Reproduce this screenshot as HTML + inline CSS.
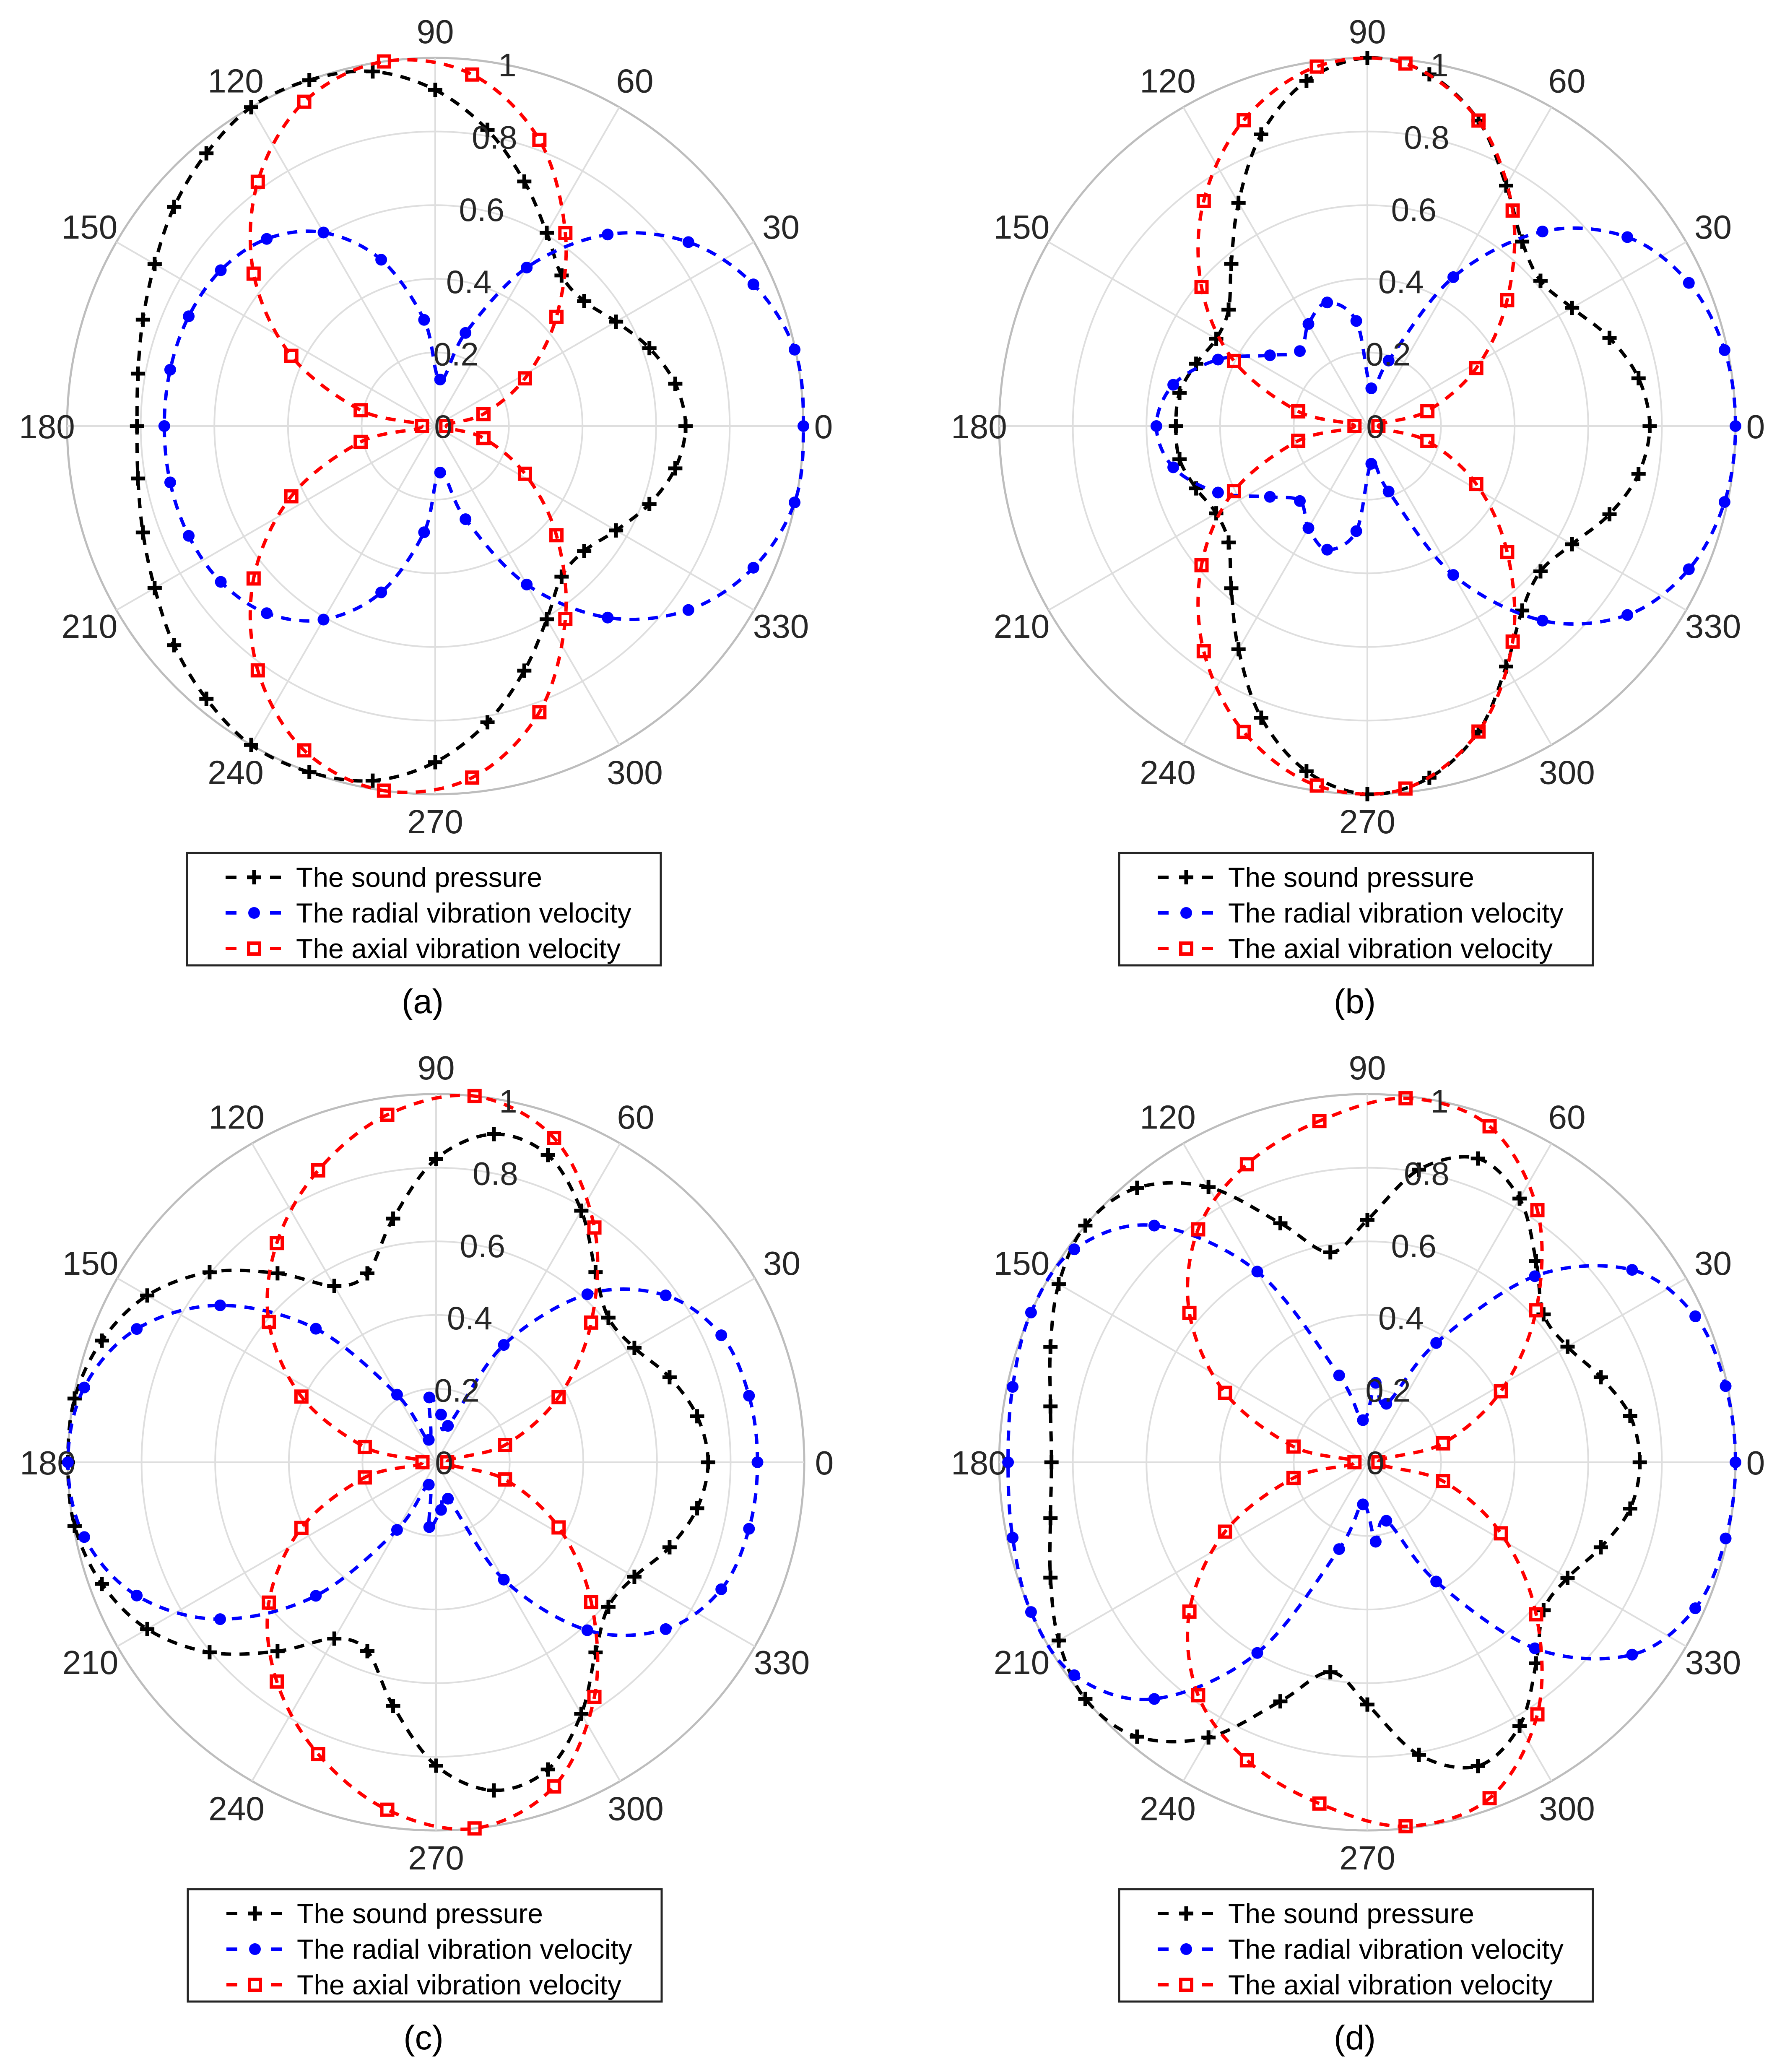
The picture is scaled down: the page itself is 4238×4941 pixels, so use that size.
<!DOCTYPE html>
<html><head><meta charset="utf-8">
<style>
html,body{margin:0;padding:0;background:#fff;}
svg{display:block;}
text{font-family:"Liberation Sans",Arial,sans-serif;}
</style></head>
<body>
<svg id="fig" xmlns="http://www.w3.org/2000/svg" width="4238" height="4941" viewBox="0 0 4238 4941">
<rect x="0" y="0" width="4238" height="4941" fill="#fff"/>
</svg>
<script>
// Angles (degrees, upper half; lower half mirrored)
const blackAngles = [0,10,20,30,40,50,60,70,80,90,100,110,120,130,140,150,160,170,180];
const blueAngles = [0,12,24,36,48,60,72,84,96,108,120,132,144,156,168,180];
const redAngles = [0,14,28,42,56,70,84,98,112,126,140,154,168,180];

// Panel (a)
const soundA = [0.68,0.662,0.619,0.567,0.528,0.534,0.606,0.707,0.817,0.913,0.978,1.0,1.0,0.967,0.926,0.88,0.845,0.82,0.81];
const radialA = [1.0,0.998,0.946,0.85,0.70,0.497,0.266,0.127,0.29,0.475,0.607,0.684,0.72,0.733,0.736,0.736];
const axialA = [0.03,0.135,0.276,0.443,0.632,0.827,0.96,1.0,0.95,0.82,0.644,0.435,0.207,0.036];
// Panel (b)
const soundB = [0.767,0.748,0.70,0.642,0.614,0.654,0.754,0.883,0.97,1.0,0.952,0.843,0.70,0.575,0.492,0.474,0.495,0.518,0.52];
const radialB = [1.0,0.992,0.956,0.873,0.711,0.467,0.187,0.103,0.287,0.353,0.32,0.274,0.327,0.444,0.539,0.573];
const axialB = [0.03,0.168,0.335,0.511,0.706,0.883,0.99,0.986,0.896,0.756,0.588,0.403,0.192,0.035];
// Panel (c)
const soundC = [0.739,0.72,0.675,0.622,0.611,0.674,0.789,0.888,0.905,0.824,0.672,0.546,0.553,0.67,0.803,0.906,0.966,0.997,1.0];
const radialC = [0.873,0.869,0.848,0.771,0.614,0.368,0.104,0.13,0.177,0.064,0.212,0.488,0.725,0.89,0.977,1.0];
const axialC = [0.03,0.193,0.377,0.567,0.769,0.937,1.0,0.953,0.855,0.736,0.593,0.407,0.198,0.037];
// Panel (d)
const soundD = [0.74,0.725,0.675,0.628,0.625,0.713,0.827,0.878,0.807,0.658,0.579,0.691,0.863,0.973,1.0,0.968,0.916,0.874,0.858];
const radialD = [1.0,0.995,0.975,0.889,0.68,0.374,0.167,0.217,0.115,0.248,0.598,0.865,0.984,1.0,0.985,0.976];
const axialD = [0.03,0.212,0.411,0.617,0.826,0.971,0.994,0.936,0.873,0.782,0.631,0.43,0.205,0.035];

const rTicks = [0,0.2,0.4,0.6,0.8,1];
const rTickLabels = ["0","0.2","0.4","0.6","0.8","1"];
const thetaTicks = [0,30,60,90,120,150,180,210,240,270,300,330];
const legendLabels = ["The sound pressure","The radial vibration velocity","The axial vibration velocity"];
const panelLetters = ["(a)","(b)","(c)","(d)"];

const NS = "http://www.w3.org/2000/svg";
const svg = document.getElementById('fig');
const R = 878;

function mk(tag, attrs, parent){
  const e = document.createElementNS(NS, tag);
  for (const k in attrs) e.setAttribute(k, attrs[k]);
  (parent||svg).appendChild(e);
  return e;
}
function px(cx, r, deg){ return cx + r*R*Math.cos(deg*Math.PI/180); }
function py(cy, r, deg){ return cy - r*R*Math.sin(deg*Math.PI/180); }

function fullSeries(angles, vals){
  const A = angles.slice(), V = vals.slice();
  for (let i = angles.length-2; i >= 1; i--){ A.push(360-angles[i]); V.push(vals[i]); }
  return {A, V};
}
function closedPath(pts){
  const n = pts.length; let d = "M"+pts[0][0].toFixed(1)+","+pts[0][1].toFixed(1);
  for (let i=0;i<n;i++){
    const p0=pts[(i-1+n)%n], p1=pts[i], p2=pts[(i+1)%n], p3=pts[(i+2)%n];
    const c1=[p1[0]+(p2[0]-p0[0])/6, p1[1]+(p2[1]-p0[1])/6];
    const c2=[p2[0]-(p3[0]-p1[0])/6, p2[1]-(p3[1]-p1[1])/6];
    d+=" C"+c1[0].toFixed(1)+","+c1[1].toFixed(1)+" "+c2[0].toFixed(1)+","+c2[1].toFixed(1)+" "+p2[0].toFixed(1)+","+p2[1].toFixed(1);
  }
  return d+" Z";
}
function marker(g, type, x, y, color){
  if (type==='plus'){
    const m = mk('path',{d:`M${x-17},${y} H${x+17} M${x},${y-17} V${y+17}`,stroke:color,'stroke-width':9,fill:'none'},g);
    
    
  } else if (type==='dot'){
    const m = mk('circle',{cx:x,cy:y,r:14,fill:color},g);
    
    
  } else {
    const m = mk('rect',{x:x-13,y:y-13,width:26,height:26,fill:'none',stroke:color,'stroke-width':8},g);
    
    
  }
}
function series(g, cx, cy, angles, vals, color, type, name){
  const sg = mk('g',{},g);
  
  
  const {A,V} = fullSeries(angles, vals);
  const pts = A.map((a,i)=>[px(cx,V[i],a), py(cy,V[i],a)]);
  const line = mk('path',{d:closedPath(pts),fill:'none',stroke:color,'stroke-width':8,'stroke-dasharray':'24 20'},sg);
  
  
  pts.forEach(p=>marker(sg,type,p[0],p[1],color));
}
function panel(idx, cx, cy, sound, radial, axial){
  const g = mk('g',{});
  
  
  rTicks.forEach(r=>{
    if (r>0){
      const c = mk('circle',{cx:cx,cy:cy,r:r*R,fill:'none',stroke:r===1?'#bdbdbd':'#dedede','stroke-width':r===1?5:4},g);
      
      
    }
  });
  thetaTicks.forEach(t=>{
    const l = mk('line',{x1:cx,y1:cy,x2:px(cx,1,t),y2:py(cy,1,t),stroke:'#dedede','stroke-width':4},g);
    
    
  });
  thetaTicks.forEach(t=>{
    const s = String(t);
    const c = Math.cos(t*Math.PI/180), sn = Math.sin(t*Math.PI/180);
    const d = (t===0||t===180) ? 926 : ((t===90||t===270) ? 942 : 952);
    const x = cx + d*c, y = cy - d*sn;
    const tx = mk('text',{x:x,y:y+29,'font-size':80,fill:'#262626','text-anchor':'middle'},g);
    tx.textContent = s;
    
    
  });
  series(g,cx,cy,blackAngles,sound,'#000','plus','sound-pressure-series');
  series(g,cx,cy,blueAngles,radial,'#0000ff','dot','radial-velocity-series');
  series(g,cx,cy,redAngles,axial,'#ff0000','square','axial-velocity-series');
  rTicks.forEach((r,i)=>{
    const tx = mk('text',{x:cx+19+153*r,y:cy-862*r+28,'font-size':78,fill:'#262626','text-anchor':'middle'},g);
    tx.textContent = rTickLabels[i];
    
    
  });
  const lx = cx - 592, ly = cy + 1018;
  const lg = mk('g',{},g);
  
  
  const box = mk('rect',{x:lx,y:ly,width:1130,height:268,fill:'#fff',stroke:'#262626','stroke-width':5},lg);
  
  
  const colors=['#000','#0000ff','#ff0000'], types=['plus','dot','square'];
  [0,1,2].forEach(k=>{
    const yy = ly + 58 + k*85;
    const ent = mk('g',{},lg);
    
    
    mk('line',{x1:lx+92,y1:yy,x2:lx+225,y2:yy,stroke:colors[k],'stroke-width':8,'stroke-dasharray':'26 80'},ent);
    marker(ent,types[k],lx+160,yy,colors[k]);
    const tx = mk('text',{x:lx+260,y:yy+23,'font-size':66,fill:'#000'},ent);
    tx.textContent = legendLabels[k];
    
    
  });
  const cap = mk('text',{x:cx-30,y:cy+1400,'font-size':82,fill:'#000','text-anchor':'middle'},g);
  cap.textContent = panelLetters[idx];
  
  
}
panel(0,1038,1016,soundA,radialA,axialA);
panel(1,3261,1016,soundB,radialB,axialB);
panel(2,1040,3487,soundC,radialC,axialC);
panel(3,3261,3487,soundD,radialD,axialD);
</script>
</body></html>
